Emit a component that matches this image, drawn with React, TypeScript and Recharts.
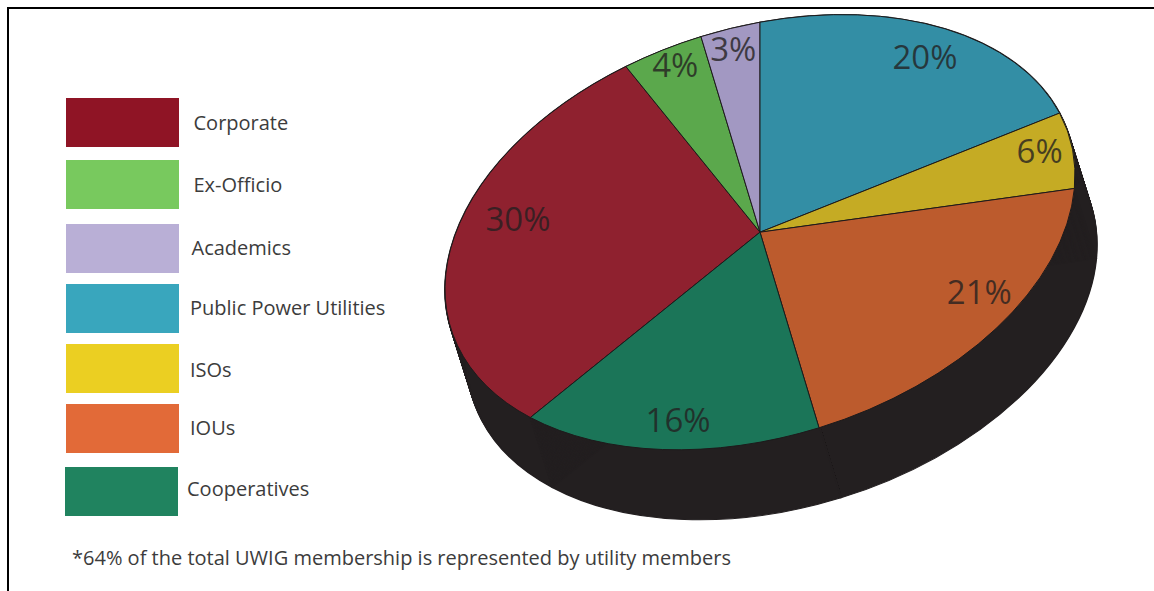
import { Legend, Pie, PieChart, Sector } from 'recharts';

const MEMBER_TYPES = ['Corporate', 'Ex-Officio', 'Academics', 'Public Power Utilities', 'ISOs', 'IOUs', 'Cooperatives'];
const MEMBER_SHARES = [30, 4, 3, 20, 6, 21, 16];
const SLICE_COLORS = ['#8f212f', '#5ba84c', '#a298c2', '#338ea5', '#c5ab24', '#bc5b2d', '#1b7558'];
const SWATCH_COLORS = ['#8f1425', '#78c95e', '#b9afd6', '#39a6bd', '#ebcf22', '#e26a38', '#20835f'];

// where each percentage sits inside its slice
const LABEL_RADII = [0.815, 0.91, 0.9, 0.87, 0.9, 0.84, 0.86];
const LABEL_TURNS = [8.7, 0.8, 0, 1, -2.3, -7.4, -0.4];

// legend rows: swatch left, swatch top, text left, text middle
const LEGEND_ROWS = [
  [66, 97.5, 193.5, 123],
  [66, 160, 193.5, 185],
  [66, 224, 191.5, 248],
  [66, 284, 190, 308],
  [66, 344, 190, 370],
  [66, 404, 190, 428],
  [64.5, 466.5, 187, 489],
];

const WIDTH = 1154;
const HEIGHT = 591;
const CX = 760;
const CY = 232.2;
const RADIUS = 210;
const DEPTH_X = 22;
const DEPTH_Y = 70;
const DEPTH_LAYERS = Array.from({ length: 71 }, (_, i) => i / 70);

// the pie is sheared so that it lies tilted, like a disc seen from above
const SHEAR_X = 315 / RADIUS;
const SHEAR_Y = -57 / RADIUS;

const tableRows = MEMBER_TYPES.map((name, i) => ({ name, value: MEMBER_SHARES[i], fill: SLICE_COLORS[i] }));

function project(angle: number, radius: number) {
  const t = ((90 - angle) * Math.PI) / 180;
  const x = radius * Math.sin(t);
  const y = -radius * Math.cos(t);
  return { x: CX + SHEAR_X * x, y: CY + SHEAR_Y * x + y };
}

function tilt(dx: number, dy: number) {
  return `translate(${CX + dx},${CY + dy}) matrix(${SHEAR_X},${SHEAR_Y},0,1,0,0) translate(${-CX},${-CY})`;
}

function TopSlice(props: any) {
  const { cx, cy, innerRadius, outerRadius, startAngle, endAngle, fill } = props;
  return (
    <g transform={tilt(0, 0)}>
      <Sector
        cx={cx}
        cy={cy}
        innerRadius={innerRadius}
        outerRadius={outerRadius}
        startAngle={startAngle}
        endAngle={endAngle}
        fill={fill}
        stroke="#1d1a1b"
        strokeWidth={1}
        vectorEffect="non-scaling-stroke"
      />
    </g>
  );
}

// the dark rim, built from copies of the slice slid down along the depth direction
function RimSlice(props: any) {
  const { cx, cy, innerRadius, outerRadius, startAngle, endAngle, name } = props;
  const seamFrom = project(endAngle, outerRadius);
  return (
    <g>
      {DEPTH_LAYERS.map((k) => (
        <g key={k} transform={tilt(DEPTH_X * k, DEPTH_Y * k)}>
          <Sector
            cx={cx}
            cy={cy}
            innerRadius={innerRadius}
            outerRadius={outerRadius}
            startAngle={startAngle}
            endAngle={endAngle}
            fill="#231f20"
            stroke="#231f20"
          />
        </g>
      ))}
      {name === 'IOUs' && (
        <line
          x1={seamFrom.x}
          y1={seamFrom.y}
          x2={seamFrom.x + DEPTH_X}
          y2={seamFrom.y + DEPTH_Y}
          stroke="#3d393a"
          strokeWidth={1}
        />
      )}
    </g>
  );
}

function ShareLabel(props: any) {
  const { midAngle, index, value } = props;
  const p = project(midAngle - LABEL_TURNS[index], RADIUS * LABEL_RADII[index]);
  return (
    <text
      x={p.x}
      y={p.y}
      textAnchor="middle"
      dominantBaseline="central"
      fontFamily="'Open Sans', sans-serif"
      fontSize={33}
      fill="#231f20"
      fillOpacity={0.78}
    >
      {value}%
    </text>
  );
}

function MemberLegend() {
  return (
    <div style={{ position: 'relative', width: 0, height: 0, fontFamily: "'Open Sans', sans-serif" }}>
      {MEMBER_TYPES.map((name, i) => {
        const [sx, sy, tx, ty] = LEGEND_ROWS[i];
        return (
          <div key={name}>
            <div style={{ position: 'absolute', left: sx, top: sy, width: 113, height: 49, background: SWATCH_COLORS[i] }} />
            <div
              style={{
                position: 'absolute',
                left: tx,
                top: ty - 15,
                height: 30,
                lineHeight: '30px',
                fontSize: 20,
                color: '#3c3c3c',
                whiteSpace: 'nowrap',
              }}
            >
              {name}
            </div>
          </div>
        );
      })}
    </div>
  );
}

export default function App() {
  return (
    <div style={{ position: 'absolute', left: 0, top: 0, width: WIDTH, height: HEIGHT, background: '#fff', overflow: 'hidden' }}>
      <div style={{ position: 'absolute', left: 7, top: 7, right: 0, bottom: 0, borderLeft: '2px solid #000', borderTop: '2px solid #000' }} />
      <PieChart width={WIDTH} height={HEIGHT} margin={{ top: 0, right: 0, bottom: 0, left: 0 }}>
        <Pie
          data={tableRows}
          dataKey="value"
          nameKey="name"
          cx={CX}
          cy={CY}
          outerRadius={RADIUS}
          startAngle={223.2}
          endAngle={-136.8}
          legendType="none"
          shape={RimSlice}
          isAnimationActive={false}
        />
        <Pie
          data={tableRows}
          dataKey="value"
          nameKey="name"
          cx={CX}
          cy={CY}
          outerRadius={RADIUS}
          startAngle={223.2}
          endAngle={-136.8}
          shape={TopSlice}
          label={ShareLabel}
          labelLine={false}
          isAnimationActive={false}
        />
        <Legend content={<MemberLegend />} wrapperStyle={{ left: 0, top: 0, width: 0, height: 0 }} />
      </PieChart>
      <div
        style={{
          position: 'absolute',
          left: 72,
          top: 543,
          fontFamily: "'Open Sans', sans-serif",
          fontSize: 20,
          lineHeight: '30px',
          color: '#3c3c3c',
          whiteSpace: 'nowrap',
        }}
      >
        *64% of the total UWIG membership is represented by utility members
      </div>
    </div>
  );
}
